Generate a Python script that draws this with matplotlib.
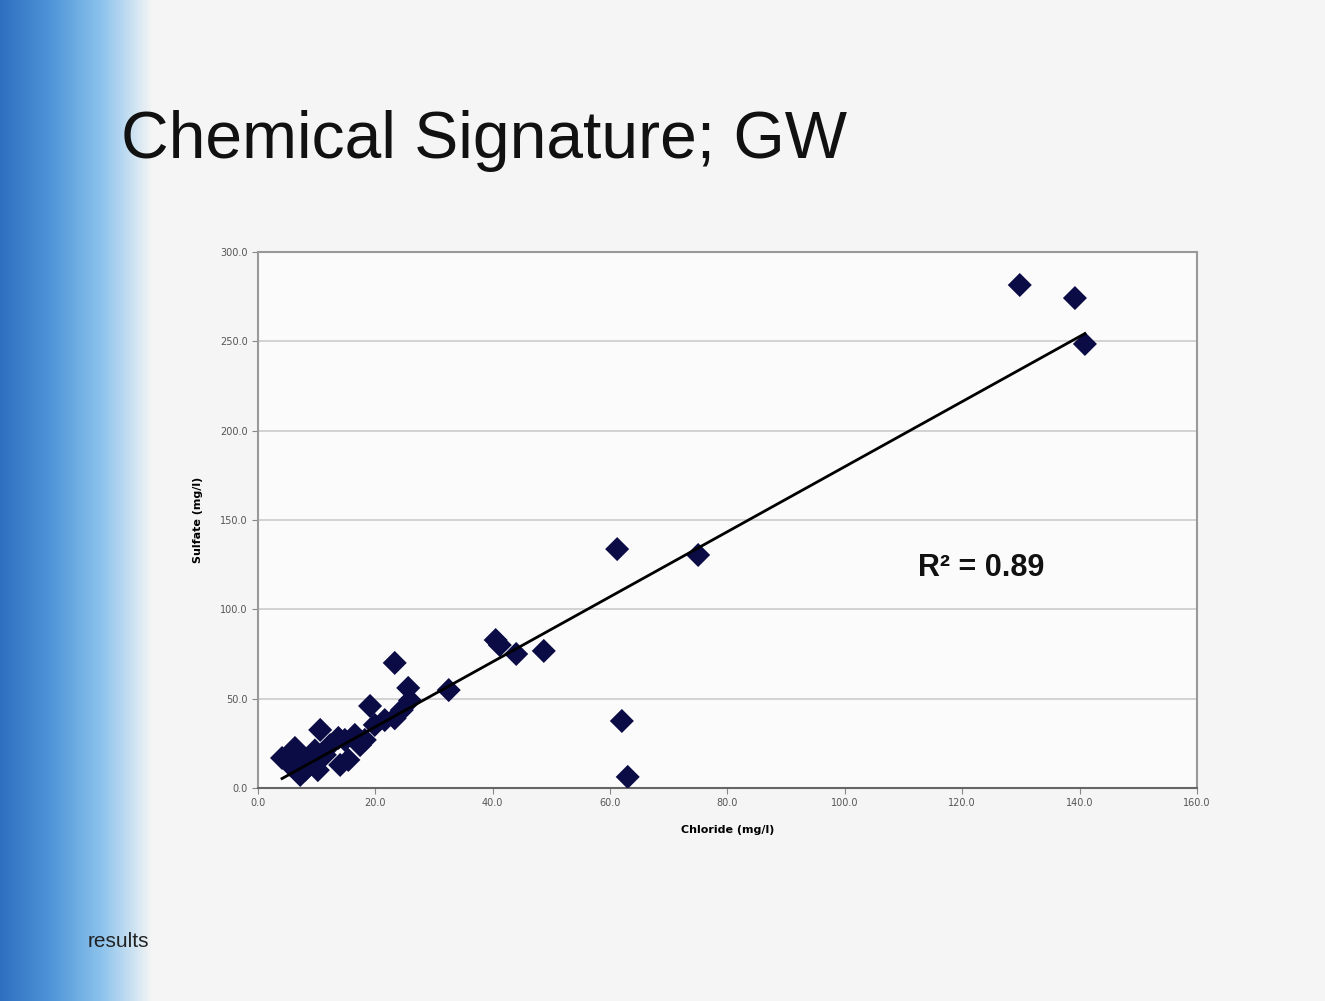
import matplotlib
matplotlib.use("Agg")
import matplotlib.pyplot as plt
import numpy as np

# chloride vs sulfate values
chloride = [129.8, 139.2, 140.9, 61.2, 75.0, 48.7, 44.0, 40.5, 41.2, 32.5,
            25.6, 23.3, 19.1, 62.0, 63.0,
            5.5, 7.2, 8.9, 10.6, 10.2, 12.3, 14.0, 14.8, 16.5, 17.4,
            18.2, 19.9, 21.6, 23.3, 24.5, 25.9, 8.0, 9.7, 11.4, 13.7,
            15.4, 6.3, 4.1, 7.2]
sulfate = [281.5, 274.2, 248.5, 133.7, 130.4, 76.7, 75.0, 82.8, 80.0, 54.8,
           56.0, 70.0, 45.9, 37.5, 6.2,
           12.9, 18.5, 15.7, 32.5, 10.0, 24.0, 12.9, 26.9, 29.7, 24.0,
           26.9, 35.3, 38.0, 39.0, 43.6, 49.0, 10.0, 21.0, 18.5, 28.0,
           15.7, 22.4, 16.8, 7.3]

x_ticks = [0, 20, 40, 60, 80, 100, 120, 140, 160]
y_ticks = [0, 50, 100, 150, 200, 250, 300]

fig = plt.figure(figsize=(13.25, 10.01), dpi=100)
fig.patch.set_facecolor("#f5f5f5")

# blue strip on the left side of the slide
strip = fig.add_axes([0.0, 0.0, 0.115, 1.0])
grad = np.linspace(0, 1, 200)[None, :]
strip.imshow(grad, aspect="auto", cmap=matplotlib.colors.LinearSegmentedColormap.from_list(
    "strip", ["#2f6fc0", "#4f95d8", "#8cc3ec", "#f5f5f5"]), extent=[0, 1, 0, 1])
strip.axis("off")

fig.text(0.091, 0.859, "Chemical Signature; GW", fontsize=47.5,
         family="Liberation Sans", color="#111111", va="center")
fig.text(0.066, 0.059, "results", fontsize=15, family="Liberation Sans",
         color="#222222", va="center")

ax = fig.add_axes([0.1947, 0.2128, 0.7087, 0.5355])
ax.set_facecolor("#fbfbfb")
ax.scatter(chloride, sulfate, marker="D", s=150, color="#0b0b45",
           edgecolors="none", zorder=3)

# linear trend line
coef = np.polyfit(chloride, sulfate, 1)
xs = np.array([min(chloride), max(chloride)])
ax.plot(xs, np.polyval(coef, xs), color="black", linewidth=2, zorder=4)

ax.set_xlim(0, 160)
ax.set_ylim(0, 300)
ax.set_xticks(x_ticks)
ax.set_yticks(y_ticks)
ax.set_xticklabels([f"{v:.1f}" for v in x_ticks], fontsize=7, color="#555555")
ax.set_yticklabels([f"{v:.1f}" for v in y_ticks], fontsize=7, color="#555555")
ax.grid(axis="y", color="#cccccc", linewidth=1.2)
for s in ax.spines.values():
    s.set_color("#999999")
    s.set_linewidth(1.5)
ax.spines["bottom"].set_color("#666666")
ax.tick_params(length=4, color="#888888")
ax.set_xlabel("Chloride (mg/l)", fontsize=8, fontweight="bold", labelpad=12)
ax.set_ylabel("Sulfate (mg/l)", fontsize=8, fontweight="bold", labelpad=12)
ax.text(0.703, 0.41, "R² = 0.89", transform=ax.transAxes, fontsize=22,
        fontweight="bold", family="Liberation Sans", color="#111111", va="center")

fig.savefig("out.png", dpi=100, facecolor=fig.get_facecolor())
